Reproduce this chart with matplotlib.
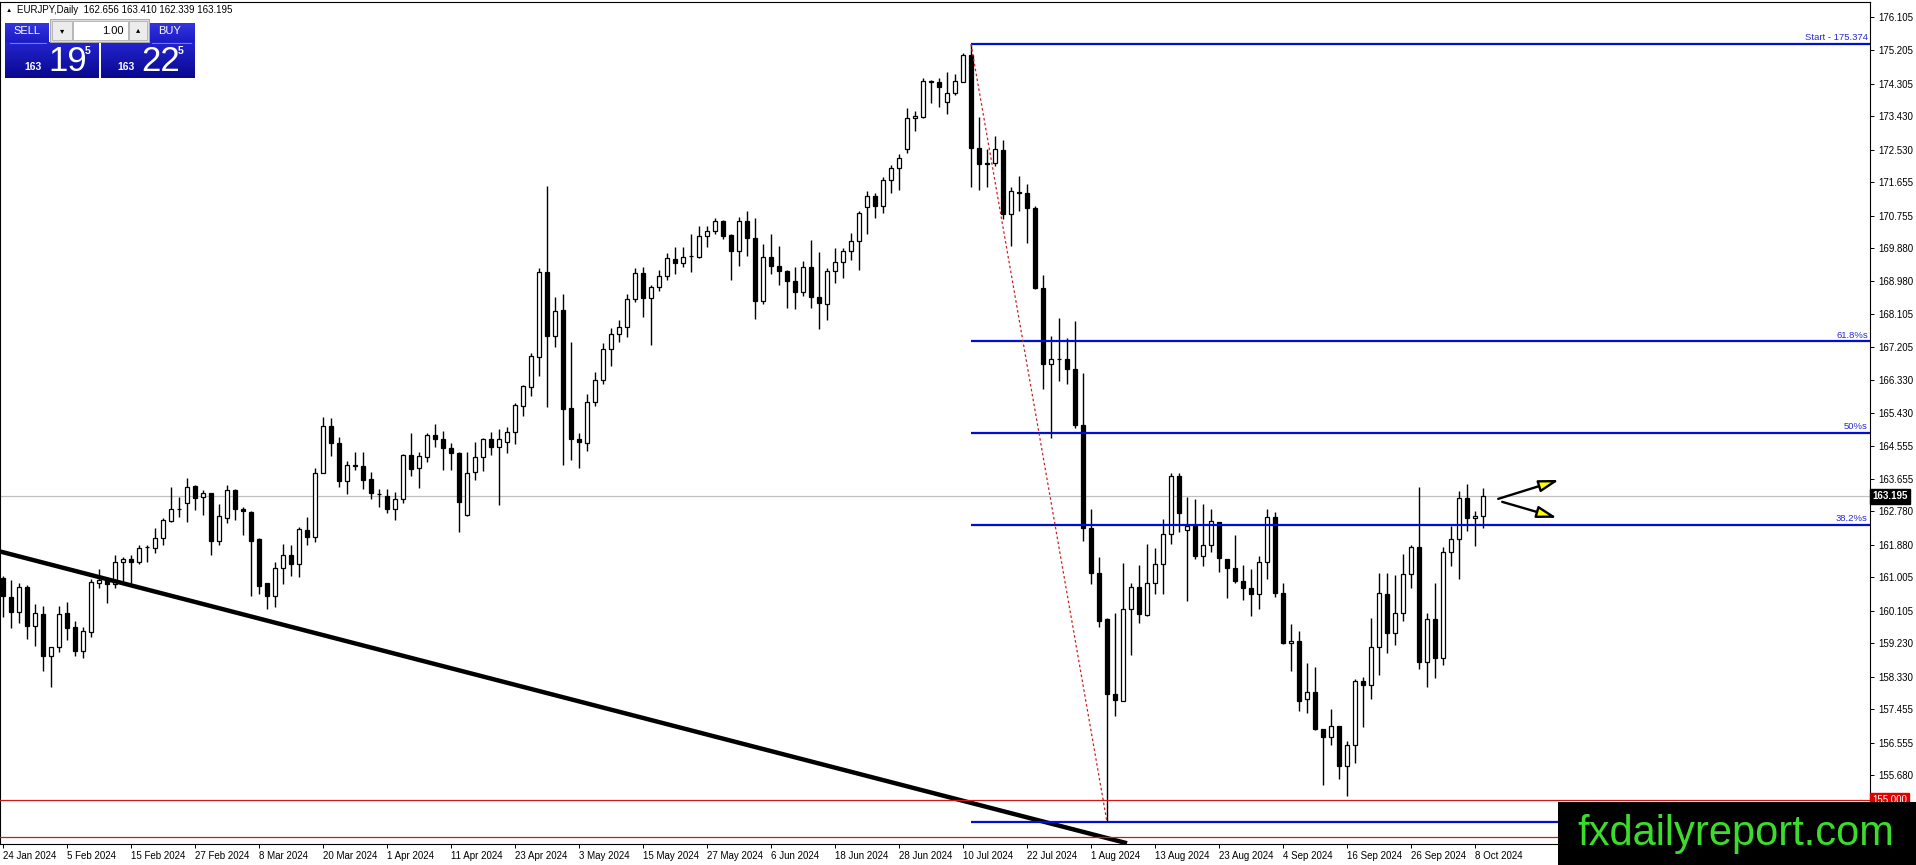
import numpy as np
import matplotlib

matplotlib.use("Agg")
import matplotlib.pyplot as plt
from matplotlib.colors import LinearSegmentedColormap
from matplotlib.patches import FancyArrowPatch, Rectangle
from matplotlib.transforms import blended_transform_factory

# EURJPY daily bars, 24 Jan 2024 -> 9 Oct 2024 (one entry per trading day)
OPEN = [
    160.98, 160.48, 160.08, 160.74, 159.70, 160.02, 158.89, 159.12, 160.04, 159.66,
    159.03, 159.54, 160.86, 160.96, 160.82, 161.41, 161.49, 161.43, 161.81, 161.79,
    162.06, 162.53, 162.85, 163.00, 163.47, 163.16, 163.27, 161.99, 162.61, 163.36,
    162.86, 162.77, 162.04, 160.84, 160.51, 161.25, 161.61, 161.36, 162.28, 162.10,
    163.81, 165.08, 164.62, 163.61, 164.01, 164.01, 163.65, 163.24, 163.20, 162.84,
    163.13, 164.30, 163.96, 164.26, 164.84, 164.72, 164.48, 164.35, 162.69, 163.85,
    164.24, 164.72, 164.53, 164.66, 164.91, 165.63, 166.14, 166.95, 169.22, 167.52,
    168.21, 165.56, 164.72, 164.62, 165.72, 166.32, 167.15, 167.56, 167.74, 168.50,
    169.20, 168.52, 168.82, 169.13, 169.58, 169.47, 169.66, 169.65, 170.21, 170.34,
    170.61, 170.23, 169.81, 170.61, 170.14, 168.46, 169.63, 169.40, 169.27, 169.00,
    168.70, 169.36, 168.55, 168.36, 169.26, 169.49, 169.80, 170.07, 170.98, 171.29,
    171.02, 171.71, 172.03, 172.54, 173.38, 173.42, 174.39, 174.35, 173.81, 174.05,
    174.36, 175.08, 172.57, 172.18, 172.16, 172.53, 170.80, 171.39, 171.36, 170.96,
    168.80, 166.75, 166.90, 166.90, 166.61, 165.12, 162.33, 161.12, 159.87, 157.86,
    157.68, 160.14, 160.74, 159.99, 160.84, 161.36, 162.16, 163.74, 162.28, 162.39,
    161.59, 161.89, 162.49, 161.49, 161.25, 160.92, 160.71, 160.56, 161.41, 162.62,
    160.59, 159.23, 159.30, 157.72, 157.92, 156.91, 156.69, 157.00, 155.91, 156.49,
    158.20, 158.11, 159.14, 160.57, 159.50, 160.04, 161.09, 161.81, 158.72, 159.87,
    158.82, 161.70, 162.03, 163.15, 162.60, 162.656,
]
HIGH = [
    161.05, 160.93, 160.86, 160.80, 160.29, 160.23, 159.14, 160.23, 160.35, 159.84,
    159.68, 160.96, 161.22, 161.02, 161.61, 161.56, 161.61, 161.89, 161.88, 162.33,
    162.60, 163.43, 163.16, 163.67, 163.49, 163.36, 163.29, 162.98, 163.49, 163.38,
    162.89, 162.78, 162.06, 160.86, 161.43, 161.90, 161.88, 162.37, 162.64, 163.94,
    165.33, 165.29, 164.78, 164.15, 164.37, 164.37, 163.84, 163.38, 163.38, 163.30,
    164.33, 164.90, 164.39, 164.89, 165.14, 164.95, 164.63, 164.37, 164.39, 164.64,
    164.77, 164.91, 164.99, 165.07, 165.70, 166.18, 167.04, 169.35, 171.55, 168.57,
    168.64, 167.36, 164.89, 165.95, 166.55, 167.31, 167.72, 167.94, 168.64, 169.35,
    169.38, 168.88, 169.29, 169.75, 169.90, 169.90, 170.27, 170.46, 170.47, 170.70,
    170.63, 170.27, 170.71, 170.88, 170.68, 169.98, 170.26, 169.93, 169.28, 169.38,
    169.54, 170.10, 169.78, 169.33, 169.87, 169.87, 170.29, 170.88, 171.42, 171.35,
    171.78, 172.13, 172.40, 173.64, 173.57, 174.47, 174.41, 174.47, 174.61, 174.57,
    175.14, 175.37, 173.40, 172.55, 172.90, 172.78, 171.52, 171.81, 171.61, 171.02,
    169.15, 167.52, 167.99, 167.46, 167.90, 166.52, 162.86, 161.56, 159.90, 160.05,
    161.40, 160.84, 161.34, 161.90, 161.79, 162.57, 163.83, 163.83, 163.16, 163.13,
    162.98, 162.86, 162.50, 161.50, 162.15, 161.34, 161.22, 161.59, 162.85, 162.76,
    160.84, 159.75, 159.57, 158.69, 158.58, 156.92, 157.45, 157.01, 156.60, 158.26,
    158.31, 159.90, 161.11, 161.13, 161.07, 161.63, 161.88, 163.43, 160.05, 160.86,
    161.81, 162.39, 163.33, 163.51, 162.79, 163.410,
]
LOW = [
    159.95, 159.65, 159.78, 159.35, 159.16, 158.49, 158.04, 159.00, 159.32, 158.89,
    158.84, 159.41, 160.71, 160.32, 160.73, 160.84, 160.86, 161.37, 161.43, 161.67,
    161.88, 162.51, 162.64, 162.51, 162.82, 162.69, 161.61, 161.88, 162.48, 162.55,
    162.15, 160.50, 160.56, 160.15, 160.21, 160.83, 161.04, 161.02, 161.88, 161.97,
    163.81, 164.27, 163.43, 163.25, 163.90, 163.39, 163.11, 162.89, 162.73, 162.55,
    163.02, 163.74, 163.42, 164.12, 164.51, 163.90, 163.90, 162.24, 162.66, 163.63,
    163.88, 164.30, 162.95, 164.35, 164.59, 165.35, 165.89, 166.43, 165.60, 167.20,
    164.02, 164.17, 163.96, 164.42, 165.63, 166.21, 166.71, 167.36, 167.49, 168.42,
    168.03, 167.27, 168.73, 169.02, 169.18, 169.36, 169.24, 169.60, 169.92, 170.25,
    170.13, 169.02, 169.39, 169.66, 167.97, 168.36, 169.18, 168.88, 168.27, 168.24,
    168.59, 168.26, 167.69, 167.94, 168.93, 169.08, 169.56, 169.30, 170.27, 170.68,
    170.82, 171.35, 171.44, 172.45, 173.04, 173.39, 173.78, 173.69, 173.48, 173.99,
    174.34, 171.53, 171.43, 171.53, 172.09, 170.65, 169.94, 170.87, 170.02, 168.77,
    166.08, 164.77, 166.30, 166.21, 165.02, 161.98, 160.83, 159.67, 154.41, 157.27,
    157.66, 158.90, 159.77, 159.96, 160.56, 160.55, 161.90, 162.24, 160.38, 161.49,
    161.31, 161.70, 161.16, 160.46, 160.84, 160.40, 159.97, 160.15, 160.96, 160.47,
    159.20, 158.49, 157.41, 157.36, 156.89, 155.41, 156.49, 155.56, 155.11, 155.99,
    156.98, 157.72, 158.37, 158.98, 159.18, 159.84, 160.71, 158.53, 158.06, 158.30,
    158.64, 161.32, 160.96, 162.25, 161.86, 162.339,
]
CLOSE = [
    160.49, 160.08, 160.74, 159.70, 160.04, 158.89, 159.12, 160.01, 159.65, 159.03,
    159.56, 160.87, 160.93, 160.82, 161.41, 161.49, 161.43, 161.79, 161.83, 162.06,
    162.55, 162.86, 162.86, 163.45, 163.15, 163.27, 161.99, 162.66, 163.36, 162.84,
    162.78, 161.99, 160.78, 160.50, 161.25, 161.61, 161.36, 162.30, 162.10, 163.81,
    165.08, 164.62, 163.61, 164.02, 164.02, 163.63, 163.27, 163.25, 162.86, 163.13,
    164.30, 163.93, 164.27, 164.84, 164.72, 164.48, 164.35, 163.04, 163.83, 164.24,
    164.72, 164.53, 164.72, 164.91, 165.65, 166.16, 166.97, 169.22, 167.52, 168.18,
    165.53, 164.72, 164.64, 165.72, 166.32, 167.15, 167.56, 167.74, 168.50, 169.20,
    168.52, 168.82, 169.13, 169.60, 169.47, 169.65, 169.67, 170.21, 170.34, 170.61,
    170.21, 169.81, 170.61, 170.14, 168.46, 169.63, 169.40, 169.27, 169.00, 168.70,
    169.36, 168.55, 168.41, 169.26, 169.49, 169.80, 170.07, 170.83, 171.29, 171.02,
    171.71, 172.03, 172.30, 173.38, 173.44, 174.39, 174.35, 174.21, 174.05, 174.39,
    175.08, 172.57, 172.14, 172.14, 172.54, 170.80, 171.42, 171.36, 170.96, 168.80,
    166.75, 166.90, 166.88, 166.61, 165.12, 162.33, 161.12, 159.83, 157.85, 157.70,
    160.15, 160.74, 160.01, 160.84, 161.36, 162.16, 163.74, 162.75, 162.39, 161.59,
    161.89, 162.52, 161.52, 161.25, 160.92, 160.71, 160.56, 161.43, 162.62, 160.59,
    159.23, 159.30, 157.68, 157.92, 156.91, 156.69, 157.00, 155.91, 156.49, 158.20,
    158.11, 159.14, 160.59, 159.50, 160.04, 161.09, 161.81, 158.72, 159.87, 158.82,
    161.70, 162.03, 163.15, 162.60, 162.67, 163.195,
]

DATE_LABELS = [
    "24 Jan 2024", "5 Feb 2024", "15 Feb 2024", "27 Feb 2024", "8 Mar 2024",
    "20 Mar 2024", "1 Apr 2024", "11 Apr 2024", "23 Apr 2024", "3 May 2024",
    "15 May 2024", "27 May 2024", "6 Jun 2024", "18 Jun 2024", "28 Jun 2024",
    "10 Jul 2024", "22 Jul 2024", "1 Aug 2024", "13 Aug 2024", "23 Aug 2024",
    "4 Sep 2024", "16 Sep 2024", "26 Sep 2024", "8 Oct 2024",
]
BARS_PER_LABEL = 8

PRICE_TICKS = [
    176.105, 175.205, 174.305, 173.430, 172.530, 171.655, 170.755, 169.880,
    168.980, 168.105, 167.205, 166.330, 165.430, 164.555, 163.655, 162.780,
    161.880, 161.005, 160.105, 159.230, 158.330, 157.455, 156.555, 155.680,
]

# drawn objects
FIB_START_BAR = 121
FIB_END_BAR = 138
FIB_HIGH = 175.374
FIB_LOW = 154.41
FIB_RATIOS = [0.0, 0.382, 0.5, 0.618, 1.0]
FIB_LABELS = [None, "38.2%s", "50%s", "61.8%s", "Start - 175.374"]  # 100% label sits under the logo
RED_LEVELS = [155.000, 154.00]
TREND_X = [-0.5, 140.5]
TREND_Y = [161.71, 153.84]
ARROW_UP = [(186.9, 163.12), (194.5, 163.63)]
ARROW_DOWN = [(187.4, 163.04), (194.25, 162.61)]

BID = "163.195"
ASK = "163.225"
LOT = "1.00"

W, H = 1916, 865
plt.rcParams["font.family"] = ["Liberation Sans", "DejaVu Sans"]

fig = plt.figure(figsize=(W / 100, H / 100), dpi=100)
fig.patch.set_facecolor("white")
ax = fig.add_axes([0, 21 / H, 1870 / W, 842 / H])
ax.set_facecolor("white")

idx = np.arange(len(OPEN))
o = np.array(OPEN)
c = np.array(CLOSE)
up = c >= o

# bid line behind candles
ax.axhline(float(BID), color="#c0c0c0", lw=0.9, zorder=1)

ax.vlines(idx, LOW, HIGH, color="black", lw=1.0, zorder=2)
ax.bar(idx, np.abs(c - o), bottom=np.minimum(o, c), width=0.56,
       color=np.where(up, "white", "black"), edgecolor="black", linewidth=0.9, zorder=3)

# trendline
ax.plot(TREND_X, TREND_Y, color="black", lw=3.2, solid_capstyle="butt", zorder=4)

# red horizontal levels
for lvl in RED_LEVELS:
    ax.axhline(lvl, color="#d01818", lw=0.9, zorder=4)

# fibonacci retracement
fib_levels = [FIB_LOW + r * (FIB_HIGH - FIB_LOW) for r in FIB_RATIOS]
xmax = 233.375
ax.hlines(fib_levels, FIB_START_BAR, xmax, color="#0010cc", lw=1.6, zorder=4)
ax.plot([FIB_START_BAR, FIB_END_BAR], [FIB_HIGH, FIB_LOW], color="#cc2020",
        lw=0.9, linestyle=(0, (2, 2)), zorder=4)
blend = blended_transform_factory(ax.transAxes, ax.transData)
for lvl, lab in zip(fib_levels, FIB_LABELS):
    if lab is None:
        continue
    ax.annotate(lab, xy=(1, lvl), xycoords=blend, xytext=(-1.5, 1.2),
                textcoords="offset points", ha="right", va="bottom",
                color="#2a2ad4", fontsize=6.8, zorder=5)

# yellow arrows
for (p0, p1) in (ARROW_UP, ARROW_DOWN):
    arr = FancyArrowPatch(p0, p1, arrowstyle="-|>,head_length=12,head_width=3.6",
                          mutation_scale=1, facecolor="#ffff00", edgecolor="black",
                          lw=1.7, shrinkA=0, shrinkB=0, zorder=6)
    ax.add_patch(arr)

ax.set_xlim(-0.375, xmax)
ax.set_ylim(153.82, 176.509)

ax.yaxis.tick_right()
ax.set_yticks(PRICE_TICKS)
ax.set_yticklabels([f"{v:.3f}" for v in PRICE_TICKS])
ax.set_xticks(np.arange(len(DATE_LABELS)) * BARS_PER_LABEL)
ax.set_xticklabels(DATE_LABELS, ha="left")
ax.tick_params(axis="y", direction="out", length=3, width=0.7, labelsize=7, pad=3)
ax.tick_params(axis="x", direction="out", length=3, width=0.7, labelsize=7, pad=2)
for sp in ax.spines.values():
    sp.set_linewidth(0.8)
    sp.set_color("black")

# price labels on the scale
ax.text(1 + 2 / 1870, float(BID), BID, transform=blend, ha="left", va="center",
        color="white", fontsize=7, fontweight="bold", zorder=7, clip_on=False,
        bbox=dict(boxstyle="square,pad=0.25", fc="black", ec="black"))
ax.text(1 + 2 / 1870, RED_LEVELS[0], f"{RED_LEVELS[0]:.3f}", transform=blend, ha="left",
        va="center", color="white", fontsize=7, zorder=7, clip_on=False,
        bbox=dict(boxstyle="square,pad=0.25", fc="#e00000", ec="#e00000"))

# overlay in pixel coordinates for terminal widgets
ov = fig.add_axes([0, 0, 1, 1], zorder=5)
ov.axis("off")

ov.text(6, 10, "\u25b2", fontsize=4.5, va="center", ha="left")
ov.text(17, 10, f"EURJPY,Daily  {OPEN[-1]:.3f} {HIGH[-1]:.3f} {LOW[-1]:.3f} {CLOSE[-1]:.3f}",
        fontsize=7, va="center", ha="left")


def grad_box(x0, y0, x1, y1, top, bottom):
    cmap = LinearSegmentedColormap.from_list("g", [top, bottom])
    ov.imshow(np.linspace(0, 1, 64).reshape(-1, 1), cmap=cmap, extent=(x0, x1, y1, y0),
              aspect="auto", interpolation="bilinear", zorder=1)


# sell / buy panel
grad_box(5, 23, 49, 42, "#3434e0", "#1c1cc4")
grad_box(5, 42, 99, 78, "#2424d0", "#08088e")
grad_box(149, 23, 195, 42, "#3434e0", "#1c1cc4")
grad_box(101, 42, 195, 78, "#2424d0", "#08088e")
ov.add_patch(Rectangle((50, 19), 99, 23, fc="#dcdcdc", ec="#a8a8a8", lw=0.7, zorder=2))
ov.add_patch(Rectangle((52, 21), 20, 19, fc="#ececec", ec="#b0b0b0", lw=0.6, zorder=3))
ov.add_patch(Rectangle((73, 21), 55, 19, fc="white", ec="#b0b0b0", lw=0.6, zorder=3))
ov.add_patch(Rectangle((129, 21), 18, 19, fc="#ececec", ec="#b0b0b0", lw=0.6, zorder=3))
ov.plot([10, 46], [42.5, 42.5], color="#8a8ae8", lw=0.6, zorder=3)
ov.plot([152, 191], [42.5, 42.5], color="#8a8ae8", lw=0.6, zorder=3)
ov.text(27, 31, "SELL", color="white", fontsize=8, ha="center", va="center", zorder=4)
ov.text(170, 31, "BUY", color="white", fontsize=8, ha="center", va="center", zorder=4)
ov.text(124, 31, LOT, color="black", fontsize=8, ha="right", va="center", zorder=4)
ov.text(62, 31.5, "\u25be", color="black", fontsize=6, ha="center", va="center", zorder=4)
ov.text(138, 30.5, "\u25b4", color="black", fontsize=6, ha="center", va="center", zorder=4)
for px, price in ((24, BID), (117, ASK)):
    big, frac = price.split(".")
    ov.text(px, 70, big, color="white", fontsize=7.5, fontweight="bold",
            ha="left", va="baseline", zorder=4)
    ov.text(px + 24, 71, frac[:2], color="white", fontsize=25,
            ha="left", va="baseline", zorder=4)
    ov.text(px + 61, 54, frac[2], color="white", fontsize=7.5, fontweight="bold",
            ha="left", va="baseline", zorder=4)

# site watermark
ov.add_patch(Rectangle((1558, 802), W - 1558, H - 802, fc="black", ec="none", zorder=8))
ov.text(1736, 834, "fxdailyreport.com", color="#3cdc2c", fontsize=30,
        ha="center", va="center", zorder=9)

ov.set_xlim(0, W)
ov.set_ylim(H, 0)

fig.savefig("out.png", dpi=100, facecolor="white")
